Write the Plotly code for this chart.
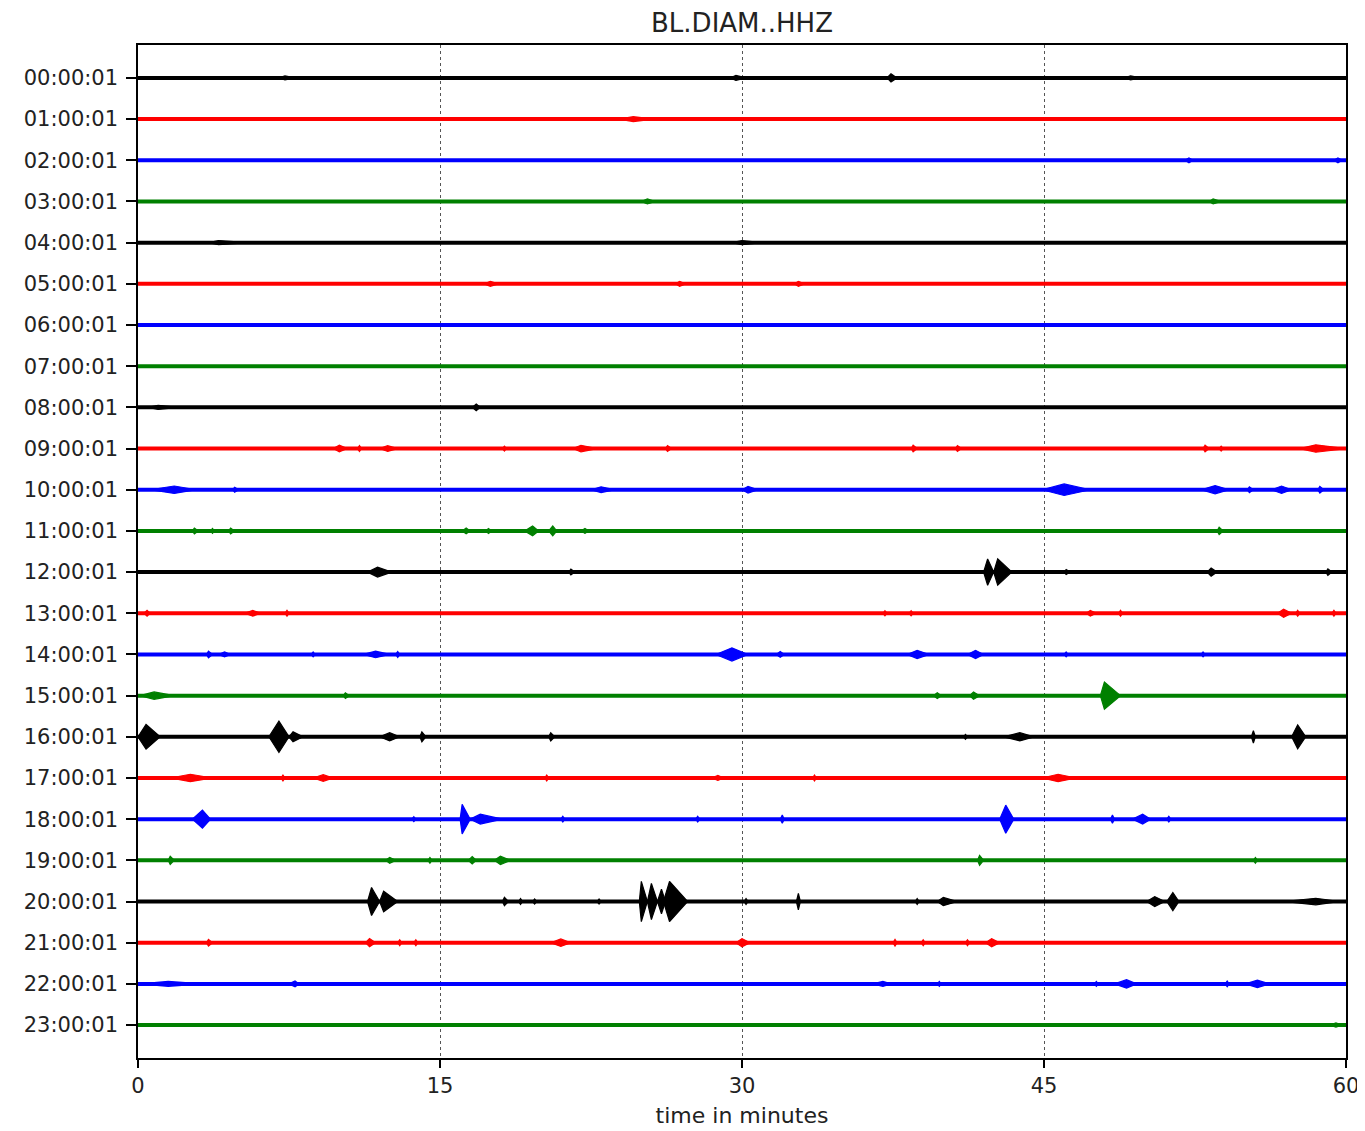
import plotly.graph_objects as go

# ---------------- data ----------------
HOUR_LABELS = [f"{h:02d}:00:01" for h in range(24)]
TRACE_COLORS = ["#000000", "#ff0000", "#0000ff", "#008000"]
X_TICKS = [0, 15, 30, 45, 60]
TITLE = "BL.DIAM..HHZ"
X_LABEL = "time in minutes"

# events per hour: (start_min, peak_min, end_min, half-amplitude in row units)
E00 = [(7.0, 7.3, 7.8, 0.05), (29.4, 29.7, 30.2, 0.06), (37.2, 37.4, 37.7, 0.1), (49.0, 49.3, 49.8, 0.05)]
E01 = [(23.9, 24.6, 25.6, 0.06)]
E02 = [(52.0, 52.2, 52.4, 0.06), (59.4, 59.6, 59.8, 0.06)]
E03 = [(25.0, 25.3, 25.7, 0.06), (53.2, 53.4, 53.8, 0.06)]
E04 = [(3.5, 4.0, 5.5, 0.05), (29.5, 30.0, 31.0, 0.05)]
E05 = [(17.2, 17.5, 17.9, 0.06), (26.7, 26.9, 27.2, 0.06), (32.6, 32.8, 33.1, 0.06)]
E06 = []
E07 = []
E08 = [(0.5, 1.0, 2.0, 0.05), (16.6, 16.8, 17.0, 0.08)]
E09 = [(9.7, 10.0, 10.4, 0.08), (10.9, 11.0, 11.1, 0.07), (12.0, 12.4, 12.9, 0.07), (18.1, 18.2, 18.3, 0.06),
       (21.6, 22.0, 22.8, 0.08), (26.2, 26.3, 26.5, 0.07), (38.4, 38.5, 38.7, 0.08), (40.6, 40.7, 40.9, 0.07),
       (52.9, 53.0, 53.2, 0.08), (53.7, 53.8, 53.9, 0.06), (57.7, 58.5, 60.0, 0.09)]
E10 = [(0.6, 1.8, 2.9, 0.09), (4.7, 4.8, 5.0, 0.06), (22.5, 23.0, 23.7, 0.07), (30.0, 30.3, 30.8, 0.08),
       (44.9, 46.0, 47.3, 0.14), (52.8, 53.5, 54.2, 0.1), (55.1, 55.2, 55.4, 0.07), (56.3, 56.8, 57.3, 0.09),
       (58.6, 58.7, 58.9, 0.08)]
E11 = [(2.7, 2.8, 3.0, 0.07), (3.6, 3.7, 3.8, 0.06), (4.5, 4.6, 4.8, 0.07), (16.1, 16.3, 16.5, 0.07),
       (17.3, 17.4, 17.6, 0.06), (19.2, 19.6, 19.9, 0.12), (20.4, 20.6, 20.8, 0.12), (22.0, 22.2, 22.4, 0.06),
       (53.6, 53.7, 53.9, 0.09)]
E12 = [(11.4, 11.9, 12.6, 0.12), (21.4, 21.5, 21.7, 0.07), (42.0, 42.2, 42.5, 0.32), (42.5, 42.7, 43.4, 0.32),
       (46.0, 46.1, 46.3, 0.06), (53.1, 53.3, 53.6, 0.1), (59.0, 59.1, 59.3, 0.08)]
E13 = [(0.3, 0.45, 0.6, 0.07), (5.3, 5.7, 6.1, 0.07), (7.3, 7.4, 7.5, 0.07), (37.0, 37.1, 37.2, 0.06),
       (38.3, 38.4, 38.5, 0.06), (47.1, 47.3, 47.6, 0.07), (48.7, 48.8, 48.9, 0.07), (56.6, 56.9, 57.3, 0.1),
       (57.5, 57.6, 57.7, 0.07), (59.3, 59.4, 59.5, 0.07)]
E14 = [(3.4, 3.5, 3.7, 0.08), (4.0, 4.3, 4.6, 0.06), (8.6, 8.7, 8.8, 0.06), (11.2, 11.8, 12.5, 0.08),
       (12.8, 12.9, 13.0, 0.07), (28.7, 29.5, 30.3, 0.16), (31.7, 31.9, 32.1, 0.07), (38.2, 38.7, 39.3, 0.1),
       (41.2, 41.6, 42.0, 0.1), (46.0, 46.1, 46.2, 0.06), (52.8, 52.9, 53.0, 0.06)]
E15 = [(0.1, 0.8, 1.8, 0.09), (10.2, 10.3, 10.5, 0.07), (39.5, 39.7, 39.9, 0.07), (41.3, 41.5, 41.8, 0.09),
       (47.8, 48.0, 48.8, 0.33)]
E16 = [(0.0, 0.4, 1.1, 0.3), (6.5, 7.0, 7.5, 0.38), (7.5, 7.7, 8.2, 0.12), (12.0, 12.5, 13.0, 0.1),
       (14.0, 14.1, 14.3, 0.12), (20.4, 20.5, 20.7, 0.1), (41.0, 41.1, 41.2, 0.06), (43.0, 43.8, 44.5, 0.1),
       (55.3, 55.4, 55.5, 0.15), (57.3, 57.6, 58.0, 0.29)]
E17 = [(1.6, 2.6, 3.7, 0.09), (7.1, 7.2, 7.3, 0.07), (8.7, 9.2, 9.7, 0.08), (20.2, 20.3, 20.4, 0.07),
       (28.5, 28.8, 29.1, 0.06), (33.5, 33.6, 33.7, 0.07), (44.9, 45.7, 46.6, 0.09)]
E18 = [(2.7, 3.2, 3.6, 0.22), (13.6, 13.7, 13.8, 0.06), (16.0, 16.1, 16.5, 0.36), (16.5, 17.0, 18.1, 0.12),
       (21.0, 21.1, 21.2, 0.07), (27.7, 27.8, 27.9, 0.07), (31.9, 32.0, 32.1, 0.1), (42.8, 43.1, 43.5, 0.34),
       (48.3, 48.4, 48.5, 0.1), (49.4, 49.9, 50.3, 0.12), (51.1, 51.2, 51.3, 0.07)]
E19 = [(1.5, 1.6, 1.8, 0.1), (12.3, 12.5, 12.8, 0.07), (14.4, 14.5, 14.6, 0.07), (16.4, 16.6, 16.8, 0.09),
       (17.7, 18.0, 18.5, 0.1), (41.7, 41.8, 42.0, 0.12), (55.4, 55.5, 55.6, 0.07)]
E20 = [(11.4, 11.6, 12.0, 0.34), (12.0, 12.2, 12.9, 0.25), (18.1, 18.2, 18.4, 0.1), (18.9, 19.0, 19.1, 0.07),
       (19.6, 19.7, 19.8, 0.06), (22.8, 22.9, 23.0, 0.06), (24.9, 25.0, 25.3, 0.49), (25.3, 25.5, 25.8, 0.44),
       (25.8, 26.0, 26.2, 0.3), (26.1, 26.4, 27.3, 0.49), (30.1, 30.2, 30.3, 0.07), (32.7, 32.8, 32.9, 0.2),
       (38.6, 38.7, 38.8, 0.07), (39.7, 40.0, 40.7, 0.1), (50.1, 50.5, 51.0, 0.12), (51.1, 51.4, 51.7, 0.22),
       (56.9, 58.5, 59.7, 0.08)]
E21 = [(3.4, 3.5, 3.7, 0.08), (11.3, 11.5, 11.8, 0.1), (12.9, 13.0, 13.1, 0.07), (13.7, 13.8, 13.9, 0.07),
       (20.5, 21.0, 21.5, 0.09), (29.7, 30.0, 30.4, 0.1), (37.5, 37.6, 37.7, 0.08), (38.9, 39.0, 39.1, 0.07),
       (41.1, 41.2, 41.3, 0.07), (42.1, 42.4, 42.8, 0.1)]
E22 = [(0.1, 1.5, 3.2, 0.06), (7.5, 7.8, 8.0, 0.07), (36.5, 37.0, 37.4, 0.06), (39.7, 39.8, 39.9, 0.06),
       (47.5, 47.6, 47.7, 0.06), (48.5, 49.1, 49.6, 0.1), (54.0, 54.1, 54.2, 0.07), (55.0, 55.6, 56.2, 0.09)]
E23 = [(59.2, 59.5, 59.8, 0.05)]

EVENTS = [E00, E01, E02, E03, E04, E05, E06, E07, E08, E09, E10, E11,
          E12, E13, E14, E15, E16, E17, E18, E19, E20, E21, E22, E23]

# ---------------- figure ----------------
fig = go.Figure()
for h, evs in enumerate(EVENTS):
    color = TRACE_COLORS[h % 4]
    fig.add_trace(go.Scatter(x=[X_TICKS[0], X_TICKS[-1]], y=[h, h], mode="lines",
                             line=dict(color=color, width=4), hoverinfo="skip", showlegend=False))
    if evs:
        xs, ys = [], []
        for (t0, tp, t1, a) in evs:
            xs += [t0, tp, t1, tp, t0, None]
            ys += [h, h - a, h, h + a, h, None]
        fig.add_trace(go.Scatter(x=xs, y=ys, mode="lines", fill="toself", fillcolor=color,
                                 line=dict(color=color, width=1.2), hoverinfo="skip", showlegend=False))

tick_font = dict(family="DejaVu Sans", size=21, color="#222222")
label_font = dict(family="DejaVu Sans", size=22, color="#222222")
fig.update_layout(
    width=1357, height=1123,
    margin=dict(l=130, r=19, t=37, b=73, autoexpand=False),
    paper_bgcolor="white", plot_bgcolor="white",
    title=dict(text=TITLE, x=0.5, xanchor="center", xref="paper", yref="container",
               y=1 - 15 / 1123, yanchor="middle", font=dict(family="DejaVu Sans", size=26, color="#222222")),
    xaxis=dict(range=[0, 60], tickvals=X_TICKS, ticktext=[str(v) for v in X_TICKS],
               showgrid=True, gridcolor="#555555", gridwidth=0.8, griddash="dot",
               showline=True, linecolor="black", linewidth=1.5, mirror=True,
               ticks="outside", ticklen=8, tickwidth=1.5, tickcolor="black",
               zeroline=False, tickfont=tick_font, automargin=False,
               title=dict(text=X_LABEL, font=label_font, standoff=11)),
    yaxis=dict(range=[23.8, -0.8], tickvals=list(range(24)), ticktext=HOUR_LABELS,
               showgrid=False, showline=True, linecolor="black", linewidth=1.5, mirror=True,
               ticks="outside", ticklen=10, tickwidth=1.5, tickcolor="black", automargin=False,
               zeroline=False, tickfont=tick_font, ticklabelstandoff=4),
)

fig.write_html("out.html")
